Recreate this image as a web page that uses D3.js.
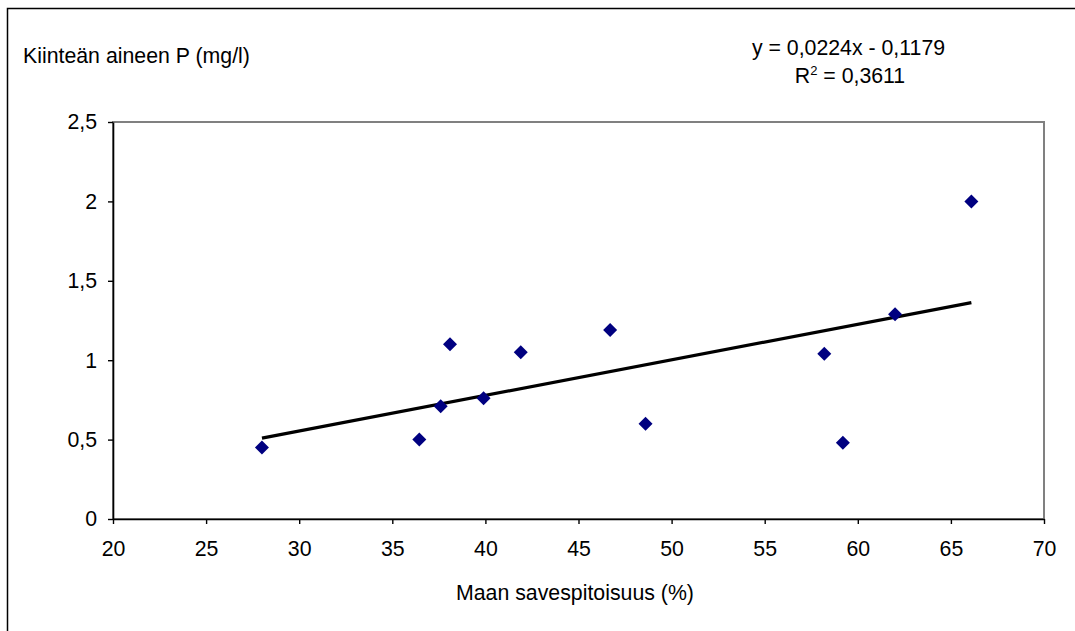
<!DOCTYPE html>
<html>
<head>
<meta charset="utf-8">
<script src="https://cdn.jsdelivr.net/npm/d3@7"></script>
<style>
  html, body { margin: 0; padding: 0; background: #fff; }
  svg { display: block; }
  text { font-family: "Liberation Sans", Arial, sans-serif; fill: #000; }
</style>
</head>
<body>
<svg id="chart" width="1075" height="631"></svg>
<script>
// ---- data ----
const clayPct = [28.0, 36.45, 37.6, 38.1, 39.9, 41.9, 46.7, 48.6, 58.2, 59.2, 62.0, 66.1];
const solidP  = [0.45, 0.50, 0.71, 1.10, 0.76, 1.05, 1.19, 0.60, 1.04, 0.48, 1.29, 2.00];
const trendCoef = [0.0224, -0.1179];   // slope, intercept
const xTicks = [20, 25, 30, 35, 40, 45, 50, 55, 60, 65, 70];
const yTicks = [0, 0.5, 1, 1.5, 2, 2.5];
const eqLabel = "y = 0,0224x - 0,1179";
const r2Label = "0,3611";
const yTitle = "Kiinteän aineen P (mg/l)";
const xTitle = "Maan savespitoisuus (%)";

// ---- layout ----
const W = 1075, H = 631;
const FS = 21.3;
const plot = { left: 113, top: 122, right: 1044, bottom: 519 };
const svg = d3.select("#chart");

svg.append("rect").attr("width", W).attr("height", H).attr("fill", "#fff");
// outer chart border (only left/top visible)
svg.append("rect")
  .attr("x", 7.5).attr("y", 8.5).attr("width", 1200).attr("height", 800)
  .attr("fill", "none").attr("stroke", "#000").attr("stroke-width", 1.5);

const x = d3.scaleLinear().domain([20, 70]).range([plot.left, plot.right]);
const y = d3.scaleLinear().domain([0, 2.5]).range([plot.bottom, plot.top]);

// plot frame (grey)
svg.append("rect")
  .attr("x", plot.left).attr("y", plot.top)
  .attr("width", plot.right - plot.left).attr("height", plot.bottom - plot.top)
  .attr("fill", "none").attr("stroke", "#808080").attr("stroke-width", 2);

const fmt = d => String(d).replace(".", ",");

const gx = svg.append("g")
  .attr("transform", `translate(0,${plot.bottom})`)
  .call(d3.axisBottom(x).tickValues(xTicks).tickFormat(fmt).tickSize(5).tickSizeOuter(0).tickPadding(17));
const gy = svg.append("g")
  .attr("transform", `translate(${plot.left},0)`)
  .call(d3.axisLeft(y).tickValues(yTicks).tickFormat(fmt).tickSize(5).tickSizeOuter(0).tickPadding(11));

[gx, gy].forEach(g => {
  g.select(".domain").attr("stroke", "#000").attr("stroke-width", 1.6);
  g.selectAll(".tick line").attr("stroke", "#000").attr("stroke-width", 1.4);
  g.selectAll(".tick text")
    .attr("font-family", "'Liberation Sans', Arial, sans-serif")
    .attr("font-size", FS).attr("fill", "#000");
});

// trendline
const xMin = d3.min(clayPct), xMax = d3.max(clayPct);
const trend = [xMin, xMax].map(v => [v, trendCoef[0] * v + trendCoef[1]]);
svg.append("path")
  .datum(trend)
  .attr("d", d3.line().x(d => x(d[0])).y(d => y(d[1])))
  .attr("fill", "none").attr("stroke", "#000").attr("stroke-width", 3.2);

// points (diamonds)
const diamond = d3.symbol().type(d3.symbolSquare).size(98);
svg.append("g").selectAll("path")
  .data(clayPct.map((c, i) => [c, solidP[i]]))
  .join("path")
  .attr("d", diamond)
  .attr("transform", d => `translate(${x(d[0])},${y(d[1])}) rotate(45)`)
  .attr("fill", "#000080");

// texts
svg.append("text").attr("x", 23).attr("y", 63)
  .attr("font-size", FS).text(yTitle);

svg.append("text").attr("x", 575).attr("y", 600)
  .attr("text-anchor", "middle").attr("font-size", FS).text(xTitle);

svg.append("text").attr("x", 848.5).attr("y", 55)
  .attr("text-anchor", "middle").attr("font-size", FS).text(eqLabel);

const r2 = svg.append("text").attr("x", 850).attr("y", 82.5)
  .attr("text-anchor", "middle").attr("font-size", FS);
r2.append("tspan").text("R");
r2.append("tspan").attr("font-size", 13).attr("dy", -8).text("2");
r2.append("tspan").attr("dy", 8).text(" = " + r2Label);
</script>
</body>
</html>
